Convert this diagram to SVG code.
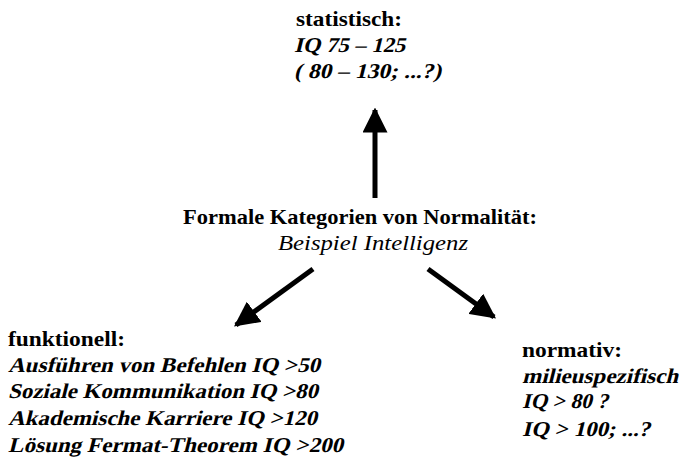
<svg xmlns="http://www.w3.org/2000/svg" width="681" height="464" viewBox="0 0 681 464">
<style>
text{font-family:"Liberation Serif","Times New Roman","DejaVu Serif",serif;fill:#000;font-size:21px}
.h{font-weight:bold}
.bi{font-weight:bold}
.r{font-weight:normal;font-family:"Liberation Serif","DejaVu Serif",serif}
.c{stroke:#000;stroke-width:5;fill:none}
</style>
<defs>
<marker id="ah" viewBox="0 0 10 10" refX="9" refY="5" markerWidth="5" markerHeight="5" markerUnits="strokeWidth" orient="auto">
<path d="M0,0 L10,5 L0,10 z" fill="#000"/>
</marker>
</defs>
<rect width="681" height="464" fill="#fff"/>
<g id="connectors">
<line class="c" x1="375" y1="198" x2="375" y2="110" marker-end="url(#ah)"/>
<line class="c" x1="313" y1="269" x2="236" y2="325" marker-end="url(#ah)"/>
<line class="c" x1="428" y1="269" x2="494" y2="317" marker-end="url(#ah)"/>
</g>
<g id="statistisch">
<text class="h" x="296" y="26" textLength="106" lengthAdjust="spacingAndGlyphs">statistisch:</text>
<text class="bi" transform="translate(294,52) skewX(-14)" textLength="111" lengthAdjust="spacingAndGlyphs">IQ 75 – 125</text>
<text class="bi" transform="translate(294,78) skewX(-14)" textLength="147" lengthAdjust="spacingAndGlyphs">( 80 – 130; ...?)</text>
</g>
<g id="center">
<text class="h" x="183" y="224" textLength="354" lengthAdjust="spacingAndGlyphs">Formale Kategorien von Normalität:</text>
<text class="r" font-style="italic" x="278" y="250" textLength="190" lengthAdjust="spacingAndGlyphs">Beispiel Intelligenz</text>
</g>
<g id="funktionell">
<text class="h" x="8" y="346" textLength="117" lengthAdjust="spacingAndGlyphs">funktionell:</text>
<text class="bi" transform="translate(8,372) skewX(-14)" textLength="312" lengthAdjust="spacingAndGlyphs">Ausführen von Befehlen IQ &gt;50</text>
<text class="bi" transform="translate(8,398) skewX(-14)" textLength="310" lengthAdjust="spacingAndGlyphs">Soziale Kommunikation IQ &gt;80</text>
<text class="bi" transform="translate(8,425) skewX(-14)" textLength="309" lengthAdjust="spacingAndGlyphs">Akademische Karriere IQ &gt;120</text>
<text class="bi" transform="translate(8,452) skewX(-14)" textLength="335" lengthAdjust="spacingAndGlyphs">Lösung Fermat-Theorem IQ &gt;200</text>
</g>
<g id="normativ">
<text class="h" x="522" y="357" textLength="100" lengthAdjust="spacingAndGlyphs">normativ:</text>
<text class="bi" transform="translate(522,383) skewX(-14)" textLength="156" lengthAdjust="spacingAndGlyphs">milieuspezifisch</text>
<text class="bi" transform="translate(522,408) skewX(-14)" textLength="86" lengthAdjust="spacingAndGlyphs">IQ &gt; 80 ?</text>
<text class="bi" transform="translate(522,436) skewX(-14)" textLength="128" lengthAdjust="spacingAndGlyphs">IQ &gt; 100; ...?</text>
</g>
</svg>
